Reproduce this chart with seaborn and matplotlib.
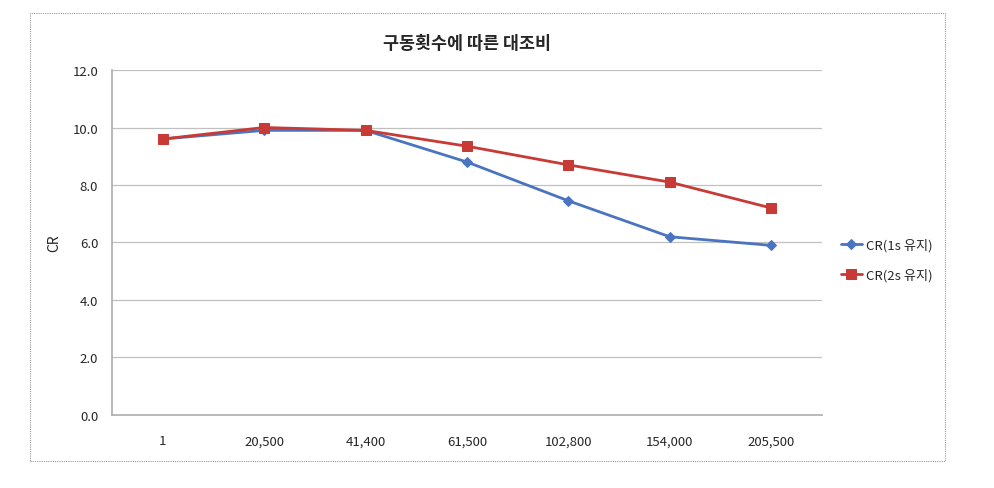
import matplotlib
matplotlib.use("Agg")
import matplotlib.pyplot as plt
import seaborn as sns
import pandas as pd
from matplotlib.patches import Rectangle

categories = ["1", "20,500", "41,400", "61,500", "102,800", "154,000", "205,500"]
cr_1s = [9.6, 9.9, 9.9, 8.8, 7.45, 6.2, 5.9]
cr_2s = [9.6, 10.0, 9.9, 9.35, 8.7, 8.1, 7.2]
series_names = ["CR(1s 유지)", "CR(2s 유지)"]
yticks = [0.0, 2.0, 4.0, 6.0, 8.0, 10.0, 12.0]

sns.set_theme(style="white")
plt.rcParams['font.family'] = ['Noto Sans CJK KR', 'DejaVu Sans']

rows = []
for name, vals in zip(series_names, [cr_1s, cr_2s]):
    for i, (c, v) in enumerate(zip(categories, vals)):
        rows.append({"pos": i, "cat": c, "CR": v, "series": name})
df = pd.DataFrame(rows)

fig = plt.figure(figsize=(9.95, 4.89), dpi=100)
ax = fig.add_axes([0.1126, 0.1493, 0.7134, 0.7055])

palette = {series_names[0]: "#4A74C0", series_names[1]: "#C83a36"}
markers = {series_names[0]: "D", series_names[1]: "s"}
sizes = {series_names[0]: 5, series_names[1]: 7}

for name in series_names:
    sub = df[df.series == name]
    sns.lineplot(data=sub, x="pos", y="CR", ax=ax, color=palette[name],
                 marker=markers[name], markersize=sizes[name], linewidth=2,
                 markeredgecolor=palette[name], label=name)

ax.set_xlim(-0.5, len(categories) - 0.5)
ax.set_ylim(0, 12)
ax.set_xticks(range(len(categories)))
ax.set_xticklabels(categories, fontsize=9.5)
ax.set_yticks(yticks)
ax.set_yticklabels([f"{t:.1f}" for t in yticks], fontsize=9.5)
ax.tick_params(axis='x', length=0, pad=14)
ax.tick_params(axis='y', length=0, pad=10)
ax.set_xlabel("")
ax.set_ylabel("CR", fontsize=10, labelpad=8)
ax.yaxis.grid(True, color="#c0c0c0", linewidth=0.9)
ax.xaxis.grid(False)
for s in ["top", "right"]:
    ax.spines[s].set_visible(False)
ax.spines["left"].set_color("#b0b0b0")
ax.spines["bottom"].set_color("#b0b0b0")

ax.set_title("구동횟수에 따른 대조비", fontsize=12.5, fontweight="bold", pad=16)

leg = ax.legend(loc="center left", bbox_to_anchor=(1.01, 0.45), frameon=False,
                fontsize=9.5, handlelength=1.6, handletextpad=0.3, labelspacing=1.2)

fig.patches.append(Rectangle((30/995, 1-462/489), (945-30)/995, (462-14)/489,
                             transform=fig.transFigure, fill=False,
                             edgecolor="#999999", linewidth=0.8, linestyle=(0, (1, 1))))

fig.savefig("out.png", dpi=100)
